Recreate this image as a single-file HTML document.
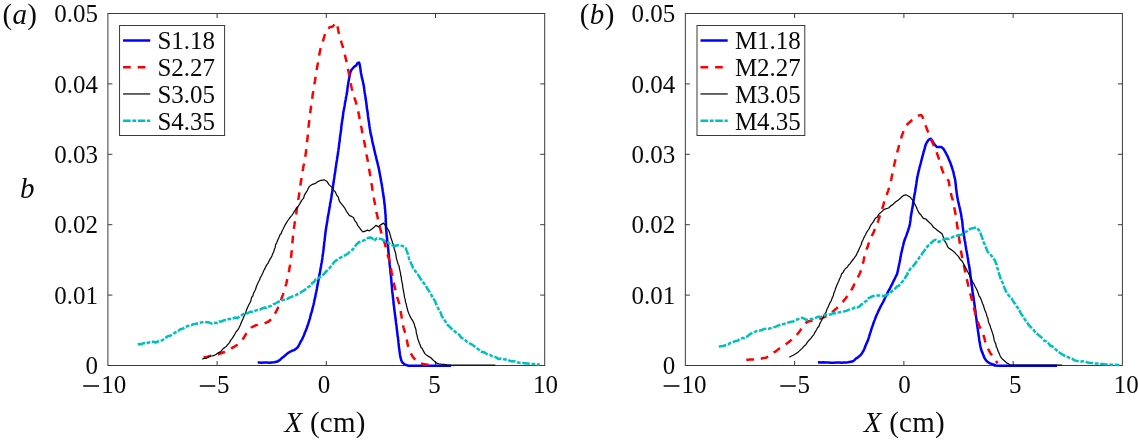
<!DOCTYPE html>
<html><head><meta charset="utf-8"><title>fig</title>
<style>
html,body{margin:0;padding:0;background:#fff;}
svg{display:block;font-family:"Liberation Serif",serif;font-size:25.9px;fill:#0a0a0a;}
</style></head><body>
<svg width="1138" height="441" viewBox="0 0 1138 441">
<rect width="1138" height="441" fill="#fff"/>
<rect x="107.9" y="13.5" width="436.80" height="352.00" fill="#fff" stroke="#3a3a3a" stroke-width="1"/>
<path d="M217.10 365.5 v-4.5 M217.10 13.5 v4.5" stroke="#3a3a3a" stroke-width="1"/>
<path d="M326.30 365.5 v-4.5 M326.30 13.5 v4.5" stroke="#3a3a3a" stroke-width="1"/>
<path d="M435.50 365.5 v-4.5 M435.50 13.5 v4.5" stroke="#3a3a3a" stroke-width="1"/>
<path d="M107.9 295.10 h4.5 M544.7 295.10 h-4.5" stroke="#3a3a3a" stroke-width="1"/>
<path d="M107.9 224.70 h4.5 M544.7 224.70 h-4.5" stroke="#3a3a3a" stroke-width="1"/>
<path d="M107.9 154.30 h4.5 M544.7 154.30 h-4.5" stroke="#3a3a3a" stroke-width="1"/>
<path d="M107.9 83.90 h4.5 M544.7 83.90 h-4.5" stroke="#3a3a3a" stroke-width="1"/>
<path d="M257.7 362.4 L259.2 362.4 L261.4 362.7 L264.0 362.6 L266.7 362.5 L269.5 362.7 L271.8 362.4 L273.8 362.2 L276.5 361.8 L278.4 361.0 L280.4 359.4 L282.0 357.9 L283.9 356.5 L285.9 354.7 L287.8 353.1 L289.6 352.0 L291.9 350.8 L294.1 350.1 L296.0 348.8 L297.4 347.6 L298.6 345.8 L299.8 343.5 L301.1 340.9 L302.1 339.3 L303.0 337.3 L304.0 335.2 L304.9 332.5 L305.9 330.4 L306.8 328.0 L307.7 325.2 L308.4 323.4 L309.1 320.8 L309.8 318.9 L310.4 316.3 L311.0 313.9 L311.7 311.9 L312.3 309.4 L312.9 307.0 L313.5 304.7 L314.0 302.4 L314.4 300.2 L315.0 298.2 L315.5 295.6 L315.9 293.3 L316.4 291.3 L316.9 288.7 L317.2 286.5 L317.7 284.4 L318.1 281.8 L318.6 279.4 L319.0 277.2 L319.4 274.9 L319.8 272.9 L320.3 270.6 L320.6 268.2 L321.0 266.4 L321.3 264.2 L321.7 262.4 L322.1 260.1 L322.4 257.9 L322.7 255.0 L323.1 253.0 L323.3 251.2 L323.6 249.1 L323.7 247.2 L324.1 244.8 L324.2 242.5 L324.6 240.4 L324.8 238.1 L325.1 235.8 L325.4 233.0 L325.7 230.8 L326.1 228.3 L326.4 226.3 L326.8 224.1 L327.1 222.1 L327.5 219.7 L327.8 217.2 L328.3 214.8 L328.7 212.8 L329.1 210.2 L329.5 208.1 L329.9 205.7 L330.2 203.4 L330.7 201.4 L331.0 199.3 L331.4 197.2 L331.7 194.5 L332.2 192.1 L332.5 189.5 L332.9 187.2 L333.2 184.7 L333.6 182.3 L333.9 179.8 L334.3 177.9 L334.5 175.5 L334.9 173.4 L335.3 171.1 L335.6 168.4 L336.0 166.1 L336.2 164.1 L336.6 162.1 L337.0 159.9 L337.2 157.6 L337.7 155.3 L338.0 152.7 L338.4 150.2 L338.7 148.0 L339.0 145.8 L339.2 143.5 L339.6 141.5 L339.8 139.1 L340.1 136.5 L340.5 133.9 L340.8 131.7 L341.2 129.2 L341.3 126.6 L341.7 124.3 L342.0 121.9 L342.3 120.0 L342.7 117.8 L343.0 115.4 L343.3 112.6 L343.7 110.5 L344.2 108.1 L344.7 105.7 L344.9 103.5 L345.3 101.6 L345.7 99.7 L346.0 97.5 L346.4 95.8 L346.9 93.1 L347.3 90.6 L347.5 88.2 L347.9 85.8 L348.2 83.5 L348.5 81.8 L348.9 79.7 L349.4 76.9 L349.9 74.4 L350.4 72.1 L351.0 70.5 L352.6 68.5 L354.3 66.7 L356.0 65.7 L357.7 62.9 L359.1 62.6 L359.6 64.1 L360.0 66.5 L360.5 69.5 L360.9 72.5 L361.4 75.0 L361.8 77.4 L362.3 79.1 L362.8 81.0 L363.2 83.4 L363.8 86.0 L364.1 88.0 L364.3 89.9 L364.6 92.2 L365.0 94.4 L365.4 96.5 L365.6 98.8 L366.1 101.4 L366.4 103.9 L366.7 106.3 L366.9 108.6 L367.3 110.5 L367.7 112.8 L367.9 115.2 L368.2 117.6 L368.5 119.6 L368.9 122.1 L369.2 124.0 L369.5 126.5 L369.8 128.5 L370.2 130.6 L370.5 132.9 L371.1 135.4 L371.6 137.4 L372.0 139.6 L372.4 141.8 L372.9 143.9 L373.5 146.2 L373.8 147.9 L374.3 149.9 L374.9 152.5 L375.4 154.6 L376.0 156.7 L376.5 159.1 L377.0 161.2 L377.6 163.3 L378.2 166.0 L378.7 167.9 L379.1 170.0 L379.5 172.2 L379.9 174.6 L380.4 177.0 L380.8 179.3 L381.2 181.8 L381.7 184.1 L382.1 186.8 L382.5 189.1 L382.8 191.5 L383.2 193.8 L383.5 196.3 L383.9 198.5 L384.2 200.9 L384.4 203.6 L384.8 205.7 L384.9 208.0 L385.2 210.3 L385.3 212.8 L385.6 215.0 L385.6 217.0 L385.8 219.4 L385.7 221.6 L385.9 223.6 L386.0 225.8 L386.0 228.2 L386.2 230.2 L386.5 232.6 L386.6 234.9 L386.9 237.0 L387.2 239.6 L387.3 242.0 L387.7 244.1 L388.0 246.6 L388.2 248.9 L388.4 251.3 L388.6 253.6 L388.9 255.9 L389.1 258.0 L389.3 260.5 L389.5 262.5 L389.7 264.9 L390.0 267.4 L390.3 269.7 L390.4 272.0 L390.7 274.4 L391.0 276.7 L391.2 278.5 L391.4 280.8 L391.5 283.1 L391.8 285.3 L392.0 287.4 L392.1 289.7 L392.3 291.9 L392.6 294.0 L392.8 296.1 L393.1 298.6 L393.4 300.6 L393.5 303.0 L393.8 305.2 L394.1 307.4 L394.4 309.8 L394.7 312.0 L394.9 314.3 L395.3 316.4 L395.5 318.5 L395.8 320.6 L396.0 322.9 L396.4 324.9 L396.6 327.0 L396.9 329.8 L397.3 332.5 L397.5 335.1 L397.9 337.5 L398.2 339.8 L398.4 342.2 L398.7 344.4 L398.9 346.6 L399.2 348.6 L399.6 351.8 L399.9 354.2 L400.3 356.3 L400.6 357.9 L401.4 360.7 L402.4 362.5 L405.0 364.6 L408.5 365.8 L409.9 365.8 L411.5 365.8 L413.5 365.8 L415.6 365.8 L418.0 365.8 L420.5 365.8 L423.1 365.8 L425.8 365.8 L428.6 365.8 L431.4 365.8 L434.1 365.8 L436.8 365.8 L439.4 365.8 L441.9 365.8 L444.2 365.8 L446.3 365.8 L448.1 365.8 L449.7 365.8 L451.0 365.8" fill="none" stroke="#0000ff" stroke-width="2.5" stroke-linejoin="round"/>
<path d="M203.5 357.5 L205.0 357.2 L206.9 356.9 L209.3 356.1 L211.9 355.7 L214.5 355.3 L217.0 354.6 L219.1 353.9 L221.8 353.0 L224.2 352.0 L226.4 351.0 L228.6 350.0 L230.7 348.9 L233.1 347.3 L235.2 346.1 L237.4 344.7 L239.4 342.7 L241.3 340.9 L242.7 339.2 L244.1 337.2 L245.5 334.8 L246.7 332.7 L247.9 330.9 L249.0 329.3 L251.2 327.5 L253.0 326.6 L255.6 325.3 L257.5 324.9 L259.6 324.2 L262.0 323.8 L264.4 323.4 L266.7 322.3 L268.6 321.5 L270.5 319.8 L272.2 317.9 L273.7 315.6 L275.1 313.3 L276.4 310.8 L277.4 309.1 L278.2 307.1 L279.0 305.1 L280.0 303.1 L280.8 301.0 L281.5 298.7 L282.2 296.6 L283.0 294.6 L283.6 292.0 L284.4 290.0 L285.0 287.5 L285.8 285.1 L286.4 283.3 L286.8 281.0 L287.5 278.6 L288.0 276.6 L288.4 274.2 L288.8 272.2 L289.2 270.0 L289.4 268.2 L290.0 265.5 L290.3 263.2 L290.6 261.0 L290.9 258.4 L291.3 254.9 L291.5 253.1 L291.7 250.8 L291.8 248.7 L292.1 246.4 L292.3 244.0 L292.5 241.6 L292.7 239.0 L293.0 236.3 L293.2 233.8 L293.5 230.9 L293.8 229.1 L294.1 226.7 L294.4 224.9 L294.7 222.8 L295.1 220.5 L295.3 218.2 L295.7 216.0 L296.1 214.0 L296.5 211.6 L296.8 209.1 L297.2 207.1 L297.5 204.6 L297.9 202.3 L298.2 200.1 L298.6 197.9 L298.9 195.8 L299.2 193.5 L299.6 190.8 L299.9 188.5 L300.3 186.3 L300.6 183.7 L300.9 181.7 L301.3 179.2 L301.7 177.0 L302.1 174.9 L302.3 173.0 L302.6 171.0 L303.1 168.5 L303.4 166.2 L303.9 164.5 L304.2 162.4 L304.5 160.8 L304.9 158.9 L305.2 157.0 L305.6 154.4 L306.0 151.6 L306.2 149.7 L306.4 147.6 L306.7 145.5 L306.8 143.3 L307.1 141.3 L307.4 138.9 L307.7 136.3 L307.8 134.1 L308.1 131.3 L308.4 129.1 L308.6 126.6 L308.8 124.1 L309.1 121.6 L309.4 119.2 L309.6 117.1 L309.9 114.7 L310.2 112.6 L310.6 109.8 L310.9 107.8 L311.2 105.2 L311.5 102.9 L311.9 100.8 L312.3 98.3 L312.5 96.0 L312.8 93.7 L313.3 91.6 L313.5 89.4 L313.9 87.2 L314.3 85.3 L314.6 82.8 L315.0 80.7 L315.4 78.3 L315.7 76.1 L316.1 73.7 L316.4 71.3 L316.8 68.9 L317.2 66.8 L317.6 64.6 L318.0 62.4 L318.3 60.4 L318.7 58.1 L319.1 56.3 L319.3 54.5 L319.9 51.5 L320.5 48.9 L321.2 46.5 L321.9 44.3 L322.5 42.4 L323.1 40.7 L323.5 38.9 L324.2 36.9 L325.0 34.1 L325.8 31.8 L326.6 29.9 L327.5 28.3 L330.3 27.1 L332.8 26.6 L334.7 23.8 L336.4 22.5 L336.9 23.8 L337.2 25.4 L337.8 27.9 L338.3 30.8 L339.0 33.7 L339.6 35.8 L340.1 37.8 L340.8 40.1 L341.4 42.3 L342.2 44.8 L342.9 47.1 L343.6 49.9 L344.2 52.0 L344.8 54.2 L345.3 56.9 L346.0 59.3 L346.5 61.7 L347.0 64.0 L347.4 66.6 L347.9 68.8 L348.4 71.0 L348.9 73.4 L349.4 75.9 L349.8 78.6 L350.4 80.8 L350.8 83.4 L351.2 85.9 L351.7 88.3 L352.3 90.3 L352.7 92.7 L353.4 94.8 L354.1 96.9 L354.7 98.7 L355.5 100.8 L356.1 102.8 L356.8 105.4 L357.3 107.4 L357.7 109.4 L358.3 111.8 L358.7 114.0 L359.2 116.6 L359.7 119.1 L360.2 121.7 L360.6 124.2 L361.1 126.4 L361.6 128.3 L361.9 130.6 L362.3 132.7 L362.8 134.6 L363.2 136.9 L363.6 138.9 L364.1 141.3 L364.6 143.4 L365.0 145.8 L365.5 148.1 L365.8 150.2 L366.3 152.7 L366.6 155.0 L367.0 157.0 L367.5 159.5 L367.9 161.6 L368.2 163.8 L368.6 166.4 L369.0 168.7 L369.5 171.3 L369.9 173.8 L370.2 175.6 L370.6 177.9 L371.0 180.0 L371.3 182.4 L371.7 184.8 L372.1 187.0 L372.4 189.5 L372.7 191.8 L373.2 194.1 L373.6 196.3 L373.9 198.4 L374.4 200.9 L374.8 202.9 L375.2 205.1 L375.5 207.5 L376.0 209.7 L376.4 212.0 L377.0 214.7 L377.5 216.9 L378.0 219.3 L378.6 221.2 L379.1 223.6 L379.4 225.4 L379.9 227.5 L380.4 229.3 L380.9 231.1 L381.6 234.1 L382.3 236.5 L383.0 238.3 L383.7 240.4 L384.4 242.2 L385.1 244.7 L385.7 246.9 L386.4 249.1 L386.9 251.6 L387.6 253.9 L388.1 256.3 L388.9 258.6 L389.4 261.3 L389.8 263.1 L390.2 265.6 L390.7 267.5 L391.2 270.0 L391.6 272.3 L392.1 274.4 L392.3 276.6 L392.9 279.0 L393.3 281.0 L393.8 283.1 L394.3 285.4 L395.0 287.9 L395.5 290.3 L396.0 292.4 L396.6 294.5 L397.1 296.5 L397.5 298.1 L398.2 300.5 L398.8 302.4 L399.4 304.2 L400.0 306.9 L400.4 308.8 L400.7 311.1 L401.0 313.4 L401.5 315.8 L401.8 318.6 L402.1 320.9 L402.5 323.1 L402.9 324.9 L403.6 327.8 L404.4 330.4 L405.1 332.6 L406.0 334.8 L406.4 337.1 L406.7 339.4 L407.2 341.9 L407.6 344.2 L408.2 346.3 L408.9 348.4 L409.7 350.8 L410.8 353.1 L412.1 355.7 L413.4 357.6 L414.8 359.0 L417.0 361.1 L419.5 362.6 L422.1 363.6 L424.4 364.2 L427.0 364.6 L429.3 364.9 L430.9 365.1" fill="none" stroke="#ff0000" stroke-width="2.5" stroke-dasharray="7.7 6.9" stroke-dashoffset="0.00" stroke-linejoin="round"/>
<path d="M202.2 359.3 L203.9 358.5 L206.3 358.3 L208.7 357.0 L211.4 356.0 L213.7 355.7 L216.2 354.2 L218.6 352.6 L220.8 351.7 L222.9 348.9 L224.7 347.5 L226.2 346.5 L227.7 344.7 L229.3 342.9 L230.8 340.1 L232.2 338.4 L233.5 336.4 L234.9 334.0 L236.1 331.7 L237.7 330.1 L238.9 328.0 L240.1 325.5 L241.3 322.6 L242.1 320.8 L243.2 318.3 L244.1 316.0 L245.2 313.8 L246.1 311.3 L246.8 309.2 L247.8 306.9 L248.9 304.5 L249.8 303.1 L251.0 300.5 L251.5 297.5 L252.8 296.1 L253.4 293.7 L254.6 291.2 L255.5 289.5 L256.4 286.5 L257.3 284.5 L258.4 282.0 L259.4 280.2 L260.4 277.5 L261.6 275.6 L262.8 273.0 L263.7 270.7 L265.0 268.4 L265.9 266.3 L267.3 264.1 L268.4 262.6 L269.5 260.1 L270.4 258.6 L271.8 256.4 L272.4 254.6 L273.5 252.3 L274.3 249.5 L275.2 247.2 L275.7 244.4 L276.7 242.8 L277.7 240.0 L278.7 237.9 L280.0 234.8 L281.1 233.7 L282.0 231.0 L282.9 229.5 L284.0 227.2 L285.2 224.8 L286.5 222.7 L287.9 220.5 L289.3 218.5 L290.3 217.2 L291.7 215.6 L293.1 213.5 L294.2 211.6 L295.6 209.5 L297.0 207.9 L298.3 206.1 L299.9 203.6 L301.2 201.1 L302.3 199.7 L303.6 198.1 L304.5 195.0 L305.6 193.1 L307.1 190.8 L308.1 188.7 L309.5 186.2 L312.5 184.3 L315.6 183.3 L317.9 181.6 L320.9 180.3 L324.1 179.8 L326.7 181.2 L329.0 184.6 L332.1 187.4 L333.4 189.9 L335.1 191.6 L336.7 195.1 L338.4 197.4 L339.0 200.1 L340.0 202.2 L343.1 205.9 L345.0 208.4 L346.4 211.3 L347.8 213.1 L349.5 215.7 L351.6 216.4 L353.4 217.6 L355.0 220.9 L356.6 222.8 L357.8 225.7 L359.5 227.7 L361.4 230.4 L362.9 231.9 L365.3 231.2 L367.4 230.1 L369.3 230.8 L371.6 229.2 L373.8 227.6 L375.9 225.4 L378.4 226.8 L381.1 224.6 L383.5 223.1 L386.0 226.2 L387.1 228.2 L388.3 229.9 L389.3 231.9 L390.2 234.9 L391.0 238.0 L392.0 240.8 L392.7 243.2 L393.6 244.9 L394.1 248.4 L394.8 250.5 L395.4 252.6 L395.9 254.7 L396.3 257.8 L396.8 259.7 L397.5 262.2 L398.3 264.5 L399.0 265.7 L399.5 268.9 L400.1 271.4 L400.5 273.3 L400.7 275.3 L401.3 277.2 L401.5 280.1 L402.1 282.6 L402.6 284.9 L402.8 287.6 L403.3 289.9 L403.7 292.1 L404.2 294.9 L404.5 297.4 L405.2 299.4 L405.4 301.6 L405.9 302.9 L406.7 306.3 L407.5 309.3 L407.9 311.3 L408.9 313.8 L409.7 315.6 L411.0 318.1 L412.5 320.4 L413.5 322.2 L414.3 324.3 L415.1 327.4 L415.6 328.4 L416.1 330.7 L416.4 333.4 L417.2 335.8 L417.6 338.2 L418.6 341.0 L419.4 343.3 L420.4 345.5 L421.0 347.6 L422.2 348.5 L423.6 351.4 L424.9 353.6 L426.5 355.1 L428.5 356.4 L430.9 357.7 L432.8 359.7 L434.6 361.4 L436.8 363.2 L438.9 363.8 L441.4 364.1 L443.8 364.3 L446.0 364.5 L446.9 364.9 L452.0 365.1 L453.5 365.1 L455.2 365.1 L457.2 365.1 L459.4 365.1 L461.8 365.1 L464.4 365.1 L467.1 365.1 L469.8 365.1 L472.6 365.1 L475.4 365.1 L478.2 365.1 L480.9 365.1 L483.6 365.1 L486.0 365.1 L488.4 365.1 L490.5 365.1 L492.4 365.1 L494.0 365.1 L495.3 365.1" fill="none" stroke="#0a0a0a" stroke-width="1.25" stroke-linejoin="round"/>
<path d="M137.8 344.7 L139.4 343.9 L141.5 344.2 L143.6 343.2 L146.4 343.3 L148.8 342.4 L151.1 342.2 L153.2 341.7 L155.6 342.5 L158.2 341.4 L160.2 341.2 L162.5 340.2 L164.5 338.6 L166.3 337.3 L168.2 335.9 L170.3 335.7 L172.2 334.6 L174.6 332.9 L176.3 331.8 L178.7 330.6 L180.4 329.1 L182.6 328.9 L184.8 327.1 L187.1 326.2 L189.0 325.7 L191.5 325.3 L193.5 324.1 L195.7 324.0 L198.1 323.2 L200.7 322.6 L202.8 322.3 L204.8 322.0 L207.1 322.2 L209.4 322.6 L211.8 323.6 L213.7 322.8 L216.4 323.1 L219.0 321.4 L221.4 321.6 L224.3 320.0 L226.3 320.3 L228.5 319.1 L230.9 319.1 L233.2 318.3 L235.3 317.5 L237.3 318.2 L239.8 316.4 L241.3 315.5 L243.0 314.1 L245.1 313.3 L247.5 313.3 L250.1 311.7 L252.7 311.7 L255.5 310.6 L257.7 309.8 L259.9 309.6 L262.2 308.5 L264.2 307.6 L266.5 307.7 L268.5 306.7 L271.1 305.9 L273.7 304.1 L275.9 303.3 L278.0 302.0 L280.5 301.0 L282.7 300.0 L285.1 299.6 L287.3 298.8 L289.4 297.7 L291.3 297.0 L293.5 295.8 L295.6 295.3 L297.7 294.1 L300.0 293.0 L302.5 291.2 L304.7 290.1 L306.9 287.8 L309.0 286.5 L310.9 285.7 L312.3 282.9 L313.8 282.2 L315.8 279.3 L317.7 278.3 L319.7 277.4 L321.5 276.0 L323.8 274.2 L325.9 271.6 L327.3 270.5 L329.2 268.6 L330.6 266.7 L332.4 264.5 L333.7 262.6 L334.7 261.5 L336.0 260.6 L339.2 258.3 L341.4 257.2 L345.3 255.2 L348.1 253.5 L350.2 251.0 L352.7 249.6 L354.7 246.7 L356.7 244.2 L358.8 242.3 L362.7 240.9 L365.8 239.5 L368.3 237.7 L370.8 237.5 L372.3 238.3 L373.9 240.8 L376.9 238.3 L380.9 238.9 L383.4 240.0 L386.0 241.8 L388.3 242.5 L390.0 244.6 L392.8 245.4 L395.4 245.7 L397.8 245.2 L400.5 245.4 L404.3 246.7 L405.7 248.1 L406.5 250.4 L407.6 253.2 L408.6 256.3 L409.1 259.2 L410.0 261.0 L411.4 264.1 L412.3 265.8 L413.0 268.0 L414.5 269.9 L415.8 271.8 L417.3 273.7 L418.5 275.4 L419.6 277.0 L420.8 279.1 L422.6 281.6 L423.7 283.1 L425.2 285.1 L426.5 286.9 L427.9 289.6 L429.2 291.0 L430.3 293.8 L431.4 294.8 L432.5 298.1 L434.0 299.4 L435.2 301.5 L436.0 303.7 L437.1 306.4 L438.4 308.9 L439.6 311.2 L440.7 312.5 L441.5 315.5 L442.6 317.2 L444.1 319.4 L445.2 321.2 L446.6 322.9 L447.9 325.3 L449.4 326.5 L451.0 328.2 L453.0 330.0 L454.8 331.4 L456.8 333.4 L459.2 334.7 L460.7 337.1 L462.5 338.4 L464.5 339.1 L466.6 341.5 L468.2 342.5 L470.2 343.7 L472.2 344.6 L474.0 346.1 L476.2 347.7 L478.2 349.4 L479.7 350.0 L481.7 351.8 L483.8 352.1 L485.7 353.4 L487.9 354.6 L490.1 354.9 L492.1 356.2 L494.1 356.7 L496.3 357.4 L498.4 358.9 L500.9 358.6 L502.9 359.0 L505.1 359.5 L507.5 359.6 L509.5 360.7 L511.8 361.4 L514.2 361.0 L516.3 361.4 L518.0 362.5 L520.4 362.9 L522.6 362.9 L524.9 363.2 L527.5 363.5 L530.3 363.8 L533.2 364.0 L535.9 364.2 L538.2 364.4 L539.8 364.5" fill="none" stroke="#00bfbf" stroke-width="2.5" stroke-dasharray="7.6 1.7 3.8 1.6" stroke-linejoin="round"/>
<path d="M83.20 386.00 H99.00" stroke="#111" stroke-width="1.6"/>
<path d="M199.80 386.00 H215.30" stroke="#111" stroke-width="1.6"/>
<rect x="119.55" y="25.50" width="105.05" height="110.00" fill="#fff" stroke="#3a3a3a" stroke-width="1"/>
<path d="M123.05 40.50 h27.2" fill="none" stroke="#0000ff" stroke-width="2.5"/>
<path d="M123.05 67.23 h27.2" fill="none" stroke="#ff0000" stroke-width="2.5" stroke-dasharray="7.7 6.9"/>
<path d="M123.05 93.96 h27.2" fill="none" stroke="#0a0a0a" stroke-width="1.25"/>
<path d="M123.05 120.69 h27.2" fill="none" stroke="#00bfbf" stroke-width="2.5" stroke-dasharray="7.6 1.7 3.8 1.6"/>
<rect x="685.35" y="13.5" width="437.05" height="352.00" fill="#fff" stroke="#3a3a3a" stroke-width="1"/>
<path d="M794.61 365.5 v-4.5 M794.61 13.5 v4.5" stroke="#3a3a3a" stroke-width="1"/>
<path d="M903.88 365.5 v-4.5 M903.88 13.5 v4.5" stroke="#3a3a3a" stroke-width="1"/>
<path d="M1013.14 365.5 v-4.5 M1013.14 13.5 v4.5" stroke="#3a3a3a" stroke-width="1"/>
<path d="M685.35 295.10 h4.5 M1122.4 295.10 h-4.5" stroke="#3a3a3a" stroke-width="1"/>
<path d="M685.35 224.70 h4.5 M1122.4 224.70 h-4.5" stroke="#3a3a3a" stroke-width="1"/>
<path d="M685.35 154.30 h4.5 M1122.4 154.30 h-4.5" stroke="#3a3a3a" stroke-width="1"/>
<path d="M685.35 83.90 h4.5 M1122.4 83.90 h-4.5" stroke="#3a3a3a" stroke-width="1"/>
<path d="M818.0 362.4 L819.3 362.2 L821.2 362.4 L823.2 362.3 L825.8 362.4 L828.4 362.4 L831.0 362.7 L833.8 362.7 L836.7 362.6 L839.3 362.5 L841.9 362.8 L844.2 362.5 L846.3 362.5 L847.9 362.3 L852.2 361.6 L854.1 360.5 L855.8 358.7 L857.6 357.7 L859.3 356.1 L860.8 354.9 L862.3 352.7 L863.4 350.9 L864.5 348.5 L865.5 345.8 L866.5 343.4 L867.6 341.1 L868.4 338.9 L869.1 336.6 L869.8 334.1 L870.6 331.9 L871.3 329.4 L872.2 326.9 L873.0 324.7 L873.8 322.1 L874.7 319.9 L875.6 317.5 L876.6 315.0 L877.7 312.7 L878.6 310.6 L879.8 308.2 L880.8 306.1 L882.0 304.0 L883.1 302.0 L884.2 299.7 L885.2 297.5 L886.4 295.4 L887.4 293.0 L888.5 290.9 L889.7 289.0 L890.7 286.8 L892.0 284.4 L893.1 281.9 L894.3 279.7 L895.3 277.5 L896.3 275.7 L897.2 273.5 L898.0 269.9 L898.3 268.6 L898.7 266.4 L899.1 264.5 L899.6 262.3 L900.1 259.7 L900.6 257.1 L901.0 254.6 L901.6 251.9 L902.1 249.8 L902.6 247.5 L903.2 245.2 L903.8 242.5 L904.6 240.0 L905.5 237.6 L906.4 235.4 L907.2 233.0 L908.0 231.0 L908.6 228.7 L909.2 227.1 L909.9 224.0 L910.2 221.8 L910.5 219.9 L910.7 217.3 L911.2 214.6 L911.6 212.6 L911.9 210.3 L912.3 208.2 L912.8 205.8 L913.1 203.2 L913.5 200.7 L913.9 198.5 L914.2 196.1 L914.7 193.7 L915.2 191.2 L915.5 188.7 L915.9 186.4 L916.3 184.0 L916.6 181.9 L916.9 179.8 L917.3 177.1 L917.7 175.5 L918.3 172.7 L918.7 170.9 L919.3 168.6 L919.8 166.3 L920.6 163.8 L921.2 161.2 L921.9 158.6 L922.4 156.6 L923.0 154.7 L923.7 151.5 L924.6 149.0 L925.1 146.5 L925.8 144.5 L926.6 142.8 L928.6 139.8 L930.6 138.7 L932.1 140.4 L933.5 142.9 L935.3 145.4 L937.1 147.1 L939.3 146.9 L941.5 147.1 L943.2 148.5 L944.7 150.9 L945.7 152.7 L946.8 154.9 L947.9 156.9 L948.8 159.2 L949.7 161.3 L950.5 163.2 L951.2 165.3 L952.0 167.5 L952.6 169.7 L953.4 172.0 L953.9 174.7 L954.5 177.1 L955.2 179.9 L955.4 182.1 L955.7 184.2 L955.9 186.7 L956.1 188.8 L956.5 191.3 L956.8 193.7 L957.1 196.1 L957.6 198.4 L958.0 200.8 L958.6 203.0 L959.1 205.5 L959.7 207.8 L960.2 210.2 L960.7 212.5 L961.2 214.8 L961.5 217.2 L961.9 219.5 L962.3 221.9 L962.5 224.0 L962.7 226.4 L963.0 228.6 L963.3 231.0 L963.7 233.3 L963.9 235.4 L964.3 237.8 L964.7 240.3 L965.2 242.4 L965.5 244.9 L965.9 247.1 L966.2 249.4 L966.7 251.8 L967.1 253.9 L967.5 256.4 L967.9 258.5 L968.2 260.7 L968.6 263.3 L969.1 265.5 L969.4 267.8 L969.8 270.1 L970.1 271.9 L970.2 274.2 L970.5 276.1 L970.9 278.6 L971.0 280.6 L971.4 282.7 L971.6 285.1 L972.1 287.4 L972.3 289.5 L972.6 292.0 L972.9 294.1 L973.4 296.5 L973.7 299.2 L974.0 301.6 L974.4 303.7 L974.7 306.2 L975.0 308.4 L975.4 310.7 L975.6 312.8 L975.9 315.1 L976.2 317.7 L976.5 319.6 L976.7 322.0 L977.1 324.3 L977.3 326.2 L977.6 328.1 L977.9 330.2 L978.3 333.0 L978.7 335.7 L979.0 338.0 L979.3 340.4 L979.8 342.8 L980.1 344.7 L980.5 346.7 L981.2 349.8 L982.0 351.7 L982.8 353.8 L983.5 355.6 L984.7 358.4 L986.0 360.3 L987.9 362.2 L990.0 363.3 L992.4 364.2 L995.0 364.9 L994.2 365.4 L1000.0 365.8 L1001.4 365.8 L1003.0 365.8 L1004.8 365.8 L1006.8 365.8 L1009.0 365.8 L1011.3 365.8 L1013.8 365.8 L1016.4 365.8 L1019.1 365.8 L1021.8 365.8 L1024.6 365.8 L1027.4 365.8 L1030.2 365.8 L1033.0 365.8 L1035.8 365.8 L1038.5 365.8 L1041.2 365.8 L1043.7 365.8 L1046.1 365.8 L1048.4 365.8 L1050.5 365.8 L1052.5 365.8 L1054.2 365.8 L1055.7 365.8 L1057.0 365.8" fill="none" stroke="#0000ff" stroke-width="2.5" stroke-linejoin="round"/>
<path d="M746.3 360.1 L747.9 359.8 L750.3 359.6 L753.0 359.4 L755.8 358.9 L758.4 358.9 L760.7 358.7 L763.6 358.0 L766.0 357.7 L768.4 356.5 L770.3 355.7 L772.1 354.3 L774.0 352.4 L776.1 351.1 L778.1 349.4 L780.1 348.0 L782.3 346.7 L784.6 345.1 L786.8 343.5 L788.5 342.3 L790.3 340.8 L791.9 339.4 L793.7 337.7 L795.5 336.1 L797.0 334.5 L798.7 332.6 L800.3 330.4 L801.7 328.1 L803.1 326.2 L804.7 324.2 L806.1 322.7 L808.5 321.3 L810.7 321.1 L813.0 320.7 L815.3 320.3 L817.3 319.6 L819.4 318.8 L821.6 318.2 L823.8 317.4 L825.9 316.3 L827.7 315.2 L829.5 313.8 L831.5 312.4 L833.3 311.2 L834.9 309.8 L836.6 308.4 L838.0 306.8 L839.6 305.2 L841.1 303.6 L842.8 302.0 L844.3 299.9 L845.9 298.0 L847.5 295.9 L849.0 293.8 L850.4 291.7 L851.8 289.2 L852.8 287.5 L853.8 285.4 L854.7 283.1 L855.9 281.3 L856.9 278.9 L858.1 276.9 L859.2 274.7 L860.2 272.5 L861.1 269.9 L861.8 268.1 L862.5 265.8 L862.9 263.3 L863.6 260.7 L864.0 258.2 L864.8 255.7 L865.3 253.7 L866.1 250.9 L866.9 248.5 L867.8 246.2 L868.6 243.6 L869.6 241.4 L870.3 239.1 L871.5 236.9 L872.4 234.6 L873.5 232.6 L874.4 230.2 L875.5 227.9 L876.3 225.6 L877.3 223.3 L878.2 220.9 L878.9 218.6 L879.8 215.9 L880.6 213.7 L881.3 211.3 L882.0 209.4 L882.7 207.0 L883.4 204.9 L883.9 202.8 L884.6 200.4 L885.4 198.5 L886.1 196.3 L886.8 194.7 L887.4 192.6 L888.2 190.6 L889.0 187.9 L889.7 185.1 L890.3 183.4 L890.8 181.2 L891.3 179.2 L891.7 176.9 L892.2 174.2 L892.8 171.9 L893.3 169.5 L893.8 167.1 L894.2 164.7 L894.8 162.3 L895.3 160.0 L895.8 158.2 L896.5 155.6 L897.1 153.1 L897.6 150.7 L898.3 148.3 L898.9 146.0 L899.5 143.8 L900.0 142.0 L900.7 140.1 L901.2 138.1 L902.1 134.9 L903.0 132.7 L903.8 130.0 L904.8 128.0 L905.8 126.3 L907.7 123.9 L909.8 122.0 L911.9 120.2 L913.9 119.0 L916.5 116.7 L919.0 115.4 L921.2 115.1 L922.2 116.3 L923.0 118.0 L923.8 120.2 L924.5 123.0 L925.5 125.3 L926.2 127.1 L927.0 129.3 L927.8 131.3 L928.7 133.5 L929.5 135.6 L930.4 137.6 L931.2 139.9 L932.2 141.9 L933.1 143.9 L934.0 146.3 L935.0 148.2 L935.9 150.4 L936.7 152.5 L937.5 154.7 L938.2 156.7 L939.0 159.1 L939.7 161.4 L940.3 163.7 L941.0 166.0 L941.5 168.0 L942.3 170.0 L943.4 173.2 L944.6 175.5 L945.7 177.4 L947.2 179.0 L948.6 180.8 L949.0 182.6 L949.3 184.7 L949.6 187.3 L950.1 190.1 L950.7 192.3 L951.2 194.5 L951.7 196.6 L952.4 198.9 L953.1 201.5 L953.6 203.9 L954.1 206.6 L954.5 208.8 L954.9 210.9 L955.4 213.5 L955.7 215.9 L956.1 218.1 L956.5 220.3 L956.8 222.6 L957.0 225.0 L957.5 227.3 L957.8 230.0 L958.2 232.2 L958.5 234.5 L958.9 236.6 L959.2 239.2 L959.6 241.5 L959.9 243.9 L960.3 246.4 L960.6 249.0 L961.0 251.3 L961.4 253.4 L961.8 255.4 L962.2 258.2 L962.7 260.2 L963.2 262.4 L963.9 265.5 L964.3 267.6 L964.7 269.4 L965.1 271.5 L965.6 273.9 L966.2 276.1 L966.6 278.6 L967.2 280.9 L967.8 283.4 L968.2 285.6 L968.8 287.6 L969.4 290.3 L969.9 292.5 L970.6 294.8 L971.2 297.3 L971.8 299.3 L972.3 301.8 L973.0 304.2 L973.7 306.5 L974.1 308.8 L974.7 311.2 L975.3 313.6 L975.9 315.9 L976.4 318.3 L977.2 320.6 L978.1 322.8 L979.0 325.2 L979.9 327.1 L980.9 329.3 L981.9 331.3 L982.9 333.5 L983.6 335.8 L984.4 338.0 L985.0 340.6 L985.6 342.8 L986.4 344.7 L987.1 347.0 L988.2 349.1 L989.3 351.2 L990.4 353.1 L991.6 354.9 L992.7 356.5 L994.5 359.2 L996.4 361.6 L997.6 363.2" fill="none" stroke="#ff0000" stroke-width="2.5" stroke-dasharray="7.7 6.9" stroke-dashoffset="0.00" stroke-linejoin="round"/>
<path d="M789.3 357.2 L791.0 356.3 L793.2 355.3 L796.1 353.5 L798.3 351.9 L800.3 350.1 L802.3 348.1 L803.9 346.3 L805.8 344.8 L807.4 342.1 L809.0 340.3 L810.9 338.4 L812.5 336.1 L813.9 334.6 L815.1 332.1 L816.7 329.5 L817.5 327.8 L818.9 326.5 L819.8 323.6 L820.8 321.8 L821.9 319.7 L823.0 317.8 L823.9 315.6 L825.3 313.4 L826.1 312.1 L826.9 309.3 L828.1 307.1 L829.1 304.7 L830.1 302.6 L831.2 300.7 L832.2 298.0 L833.3 295.8 L833.8 293.2 L834.8 290.9 L835.5 288.8 L836.3 286.5 L837.5 283.7 L838.7 281.2 L839.4 279.2 L840.7 276.7 L841.6 273.9 L843.0 272.5 L844.0 270.6 L845.5 268.5 L847.3 267.2 L848.4 265.3 L850.1 263.6 L851.2 261.8 L852.7 260.0 L853.8 258.7 L855.2 256.6 L856.3 255.2 L857.3 252.6 L858.3 251.1 L859.2 248.7 L860.4 246.3 L861.3 244.2 L862.1 241.5 L863.3 239.2 L864.1 237.3 L865.5 234.8 L866.8 232.1 L867.9 230.5 L869.2 228.6 L870.6 225.4 L872.3 223.2 L873.6 221.4 L875.3 218.3 L877.4 216.9 L878.8 214.2 L880.7 212.6 L882.9 210.6 L884.8 209.1 L888.6 208.0 L890.9 205.7 L892.8 204.6 L895.4 202.0 L898.0 200.2 L899.9 198.7 L901.9 196.8 L903.9 195.3 L905.9 194.8 L908.2 196.0 L910.3 197.3 L911.6 198.8 L913.2 200.9 L914.2 203.1 L915.4 205.2 L916.3 207.1 L917.5 209.9 L918.9 212.8 L920.3 214.2 L923.4 218.3 L926.1 219.2 L928.8 222.0 L930.5 223.4 L932.0 225.1 L933.7 227.6 L935.8 229.1 L937.6 230.4 L939.7 231.9 L942.0 233.8 L943.0 236.2 L943.9 238.5 L945.0 241.6 L946.3 243.5 L947.7 246.8 L949.0 248.3 L951.1 249.6 L953.0 251.0 L954.6 252.4 L956.5 254.6 L958.2 256.1 L960.1 259.2 L962.2 261.2 L963.8 264.3 L964.8 266.4 L966.5 269.2 L967.4 271.4 L968.4 273.0 L969.9 276.3 L970.6 277.8 L971.7 279.7 L972.7 282.2 L974.2 284.4 L975.1 286.5 L976.5 289.0 L977.4 291.0 L978.4 293.8 L979.0 295.8 L980.3 297.5 L981.1 299.4 L982.1 302.3 L982.6 303.8 L983.5 305.6 L984.2 308.3 L985.1 310.7 L985.9 312.6 L986.5 314.4 L987.0 316.5 L987.9 318.4 L988.3 321.4 L989.0 323.3 L989.9 325.1 L990.6 327.7 L991.3 329.4 L991.9 331.2 L992.5 333.1 L993.4 335.8 L993.8 338.1 L994.3 340.7 L995.0 342.3 L995.9 344.1 L996.2 346.7 L997.1 348.0 L997.9 350.8 L999.0 353.1 L1000.1 355.7 L1001.2 357.7 L1002.6 359.3 L1004.9 361.3 L1007.0 363.1 L1009.2 364.2 L1010.0 365.0 L1015.7 365.1 L1017.1 365.1 L1018.7 365.1 L1020.6 365.1 L1022.7 365.2 L1025.0 365.2 L1027.4 365.2 L1029.9 365.2 L1032.5 365.2 L1035.2 365.2 L1037.9 365.2 L1040.6 365.2 L1043.3 365.1 L1046.0 365.1 L1048.5 365.1 L1051.0 365.1 L1053.3 365.1 L1055.5 365.1 L1057.5 365.1 L1059.2 365.1 L1060.8 365.1 L1062.0 365.1" fill="none" stroke="#0a0a0a" stroke-width="1.25" stroke-linejoin="round"/>
<path d="M718.9 346.8 L720.5 346.3 L722.9 346.0 L725.3 345.3 L728.0 344.5 L730.4 342.9 L732.7 342.3 L735.2 341.1 L737.6 340.8 L739.7 339.0 L742.4 338.1 L744.5 337.9 L746.4 336.9 L748.4 335.4 L750.5 333.8 L752.8 333.0 L754.7 332.0 L756.6 331.0 L759.3 330.7 L761.8 330.0 L763.8 329.1 L766.4 328.7 L768.4 328.8 L771.0 328.1 L773.5 327.4 L776.5 326.4 L778.8 325.3 L781.3 324.3 L784.0 323.9 L786.6 323.1 L789.3 322.3 L791.3 321.8 L793.4 321.4 L795.8 319.8 L797.9 319.2 L799.9 318.4 L802.1 317.8 L804.1 318.7 L806.5 319.9 L808.7 319.5 L811.2 319.0 L813.3 318.8 L815.6 317.9 L818.3 316.7 L820.8 316.9 L823.4 315.7 L825.8 314.7 L828.1 314.9 L831.2 314.2 L833.2 313.1 L835.0 313.4 L837.4 312.4 L839.5 312.3 L841.9 311.8 L844.1 311.4 L846.3 310.9 L848.5 309.9 L850.8 309.1 L853.0 308.5 L855.1 307.4 L856.9 307.6 L859.5 306.5 L861.1 304.6 L863.3 303.7 L865.0 301.7 L866.8 300.6 L868.4 298.2 L870.5 297.3 L872.6 296.1 L875.0 296.0 L877.4 295.5 L879.7 295.4 L882.4 295.7 L884.3 295.9 L886.8 294.8 L889.4 293.7 L891.1 292.0 L893.3 290.0 L895.0 288.7 L896.8 286.6 L898.7 285.8 L900.3 284.2 L901.6 282.5 L903.5 280.4 L905.0 278.1 L905.9 276.2 L907.2 275.0 L907.8 272.4 L909.2 270.6 L911.0 268.1 L913.1 266.3 L915.3 263.2 L916.4 261.7 L917.8 259.8 L918.8 258.5 L919.9 256.5 L921.3 255.0 L922.9 252.3 L924.6 250.5 L926.4 247.6 L927.5 246.4 L929.9 244.1 L931.7 242.5 L933.6 240.6 L935.9 239.7 L938.7 241.9 L940.5 241.2 L942.9 239.7 L946.0 238.6 L948.8 239.0 L951.1 238.0 L953.0 236.7 L954.9 236.5 L958.0 235.2 L961.2 234.7 L963.1 233.3 L965.5 231.8 L967.4 231.1 L970.2 228.9 L972.4 228.2 L976.3 227.3 L978.9 230.1 L980.0 231.5 L980.8 234.0 L981.8 236.8 L982.6 239.0 L983.7 242.5 L984.7 244.4 L985.6 246.7 L986.4 248.7 L987.7 251.8 L989.5 253.5 L991.2 255.5 L992.9 257.5 L994.2 259.6 L995.1 260.8 L995.9 263.3 L996.6 264.8 L997.1 267.4 L998.0 269.4 L998.6 272.5 L999.1 273.9 L1000.1 277.0 L1000.7 279.0 L1001.4 281.0 L1002.5 282.3 L1003.2 285.1 L1004.2 287.0 L1004.7 288.7 L1005.8 290.8 L1007.0 293.5 L1008.4 295.0 L1009.8 296.7 L1011.4 298.2 L1012.8 300.6 L1014.3 302.9 L1015.5 304.1 L1016.6 306.2 L1017.8 307.6 L1018.6 310.1 L1019.9 311.2 L1021.0 313.9 L1022.4 315.4 L1023.4 317.2 L1024.9 319.4 L1026.2 321.6 L1028.0 323.8 L1029.1 325.5 L1030.4 326.6 L1032.4 329.0 L1033.9 330.3 L1035.6 332.7 L1037.2 333.8 L1038.7 335.2 L1040.5 336.6 L1042.5 338.4 L1044.2 340.6 L1046.4 341.4 L1048.4 343.3 L1050.2 345.5 L1052.3 346.4 L1054.3 348.8 L1056.2 349.7 L1058.4 352.0 L1060.1 353.0 L1062.2 354.4 L1064.1 355.4 L1065.9 356.6 L1068.0 357.0 L1070.0 358.3 L1072.2 358.8 L1074.2 360.1 L1076.1 360.7 L1078.5 361.2 L1081.0 361.5 L1083.0 361.2 L1085.6 361.6 L1087.3 362.4 L1090.0 362.9 L1092.2 363.1 L1094.7 363.4 L1097.1 363.6 L1099.7 363.9 L1102.1 364.1 L1104.9 364.3 L1107.7 364.4 L1110.6 364.6 L1113.3 364.7 L1115.8 364.8 L1117.9 364.9 L1119.4 365.0" fill="none" stroke="#00bfbf" stroke-width="2.5" stroke-dasharray="7.6 1.7 3.8 1.6" stroke-linejoin="round"/>
<path d="M663.65 386.00 H679.45" stroke="#111" stroke-width="1.6"/>
<path d="M780.31 386.00 H795.81" stroke="#111" stroke-width="1.6"/>
<rect x="697.00" y="25.50" width="107.80" height="110.00" fill="#fff" stroke="#3a3a3a" stroke-width="1"/>
<path d="M700.50 40.50 h27.2" fill="none" stroke="#0000ff" stroke-width="2.5"/>
<path d="M700.50 67.23 h27.2" fill="none" stroke="#ff0000" stroke-width="2.5" stroke-dasharray="7.7 6.9"/>
<path d="M700.50 93.96 h27.2" fill="none" stroke="#0a0a0a" stroke-width="1.25"/>
<path d="M700.50 120.69 h27.2" fill="none" stroke="#00bfbf" stroke-width="2.5" stroke-dasharray="7.6 1.7 3.8 1.6"/>
<g style="opacity:0.999">
<text transform="translate(101.15 392.80) scale(0.965 1)" text-anchor="start">10</text>
<text transform="translate(217.00 392.80) scale(0.965 1)" text-anchor="start">5</text>
<text transform="translate(324.00 392.80) scale(0.965 1)" text-anchor="middle">0</text>
<text transform="translate(434.50 392.80) scale(0.965 1)" text-anchor="middle">5</text>
<text transform="translate(545.50 392.80) scale(0.965 1)" text-anchor="middle">10</text>
<text transform="translate(98.00 374.30) scale(0.965 1)" text-anchor="end">0</text>
<text transform="translate(98.00 303.88) scale(0.965 1)" text-anchor="end">0.01</text>
<text transform="translate(98.00 233.46) scale(0.965 1)" text-anchor="end">0.02</text>
<text transform="translate(98.00 163.04) scale(0.965 1)" text-anchor="end">0.03</text>
<text transform="translate(98.00 92.62) scale(0.965 1)" text-anchor="end">0.04</text>
<text transform="translate(98.00 22.20) scale(0.965 1)" text-anchor="end">0.05</text>
<text x="325.10" y="432.30" text-anchor="middle" font-size="29" letter-spacing="0.25"><tspan font-style="italic">X</tspan> (cm)</text>
<text x="2.4" y="24.3" font-size="29" letter-spacing="0.4">(<tspan font-style="italic">a</tspan>)</text>
<text transform="translate(157.45 48.70) scale(0.965 1)" text-anchor="start">S1.18</text>
<text transform="translate(157.45 75.83) scale(0.965 1)" text-anchor="start">S2.27</text>
<text transform="translate(157.45 102.96) scale(0.965 1)" text-anchor="start">S3.05</text>
<text transform="translate(157.45 130.09) scale(0.965 1)" text-anchor="start">S4.35</text>
<text transform="translate(681.60 392.80) scale(0.965 1)" text-anchor="start">10</text>
<text transform="translate(797.51 392.80) scale(0.965 1)" text-anchor="start">5</text>
<text transform="translate(904.58 392.80) scale(0.965 1)" text-anchor="middle">0</text>
<text transform="translate(1015.14 392.80) scale(0.965 1)" text-anchor="middle">5</text>
<text transform="translate(1126.20 392.80) scale(0.965 1)" text-anchor="middle">10</text>
<text transform="translate(675.25 374.30) scale(0.965 1)" text-anchor="end">0</text>
<text transform="translate(675.25 303.88) scale(0.965 1)" text-anchor="end">0.01</text>
<text transform="translate(675.25 233.46) scale(0.965 1)" text-anchor="end">0.02</text>
<text transform="translate(675.25 163.04) scale(0.965 1)" text-anchor="end">0.03</text>
<text transform="translate(675.25 92.62) scale(0.965 1)" text-anchor="end">0.04</text>
<text transform="translate(675.25 22.20) scale(0.965 1)" text-anchor="end">0.05</text>
<text x="904.27" y="432.30" text-anchor="middle" font-size="29" letter-spacing="0.25"><tspan font-style="italic">X</tspan> (cm)</text>
<text x="579.7" y="24.3" font-size="29" letter-spacing="0.4">(<tspan font-style="italic">b</tspan>)</text>
<text transform="translate(734.90 48.70) scale(0.965 1)" text-anchor="start">M1.18</text>
<text transform="translate(734.90 75.83) scale(0.965 1)" text-anchor="start">M2.27</text>
<text transform="translate(734.90 102.96) scale(0.965 1)" text-anchor="start">M3.05</text>
<text transform="translate(734.90 130.09) scale(0.965 1)" text-anchor="start">M4.35</text>
<text x="20" y="198.3" font-size="29" font-style="italic">b</text>
</g>
</svg>
</body></html>
